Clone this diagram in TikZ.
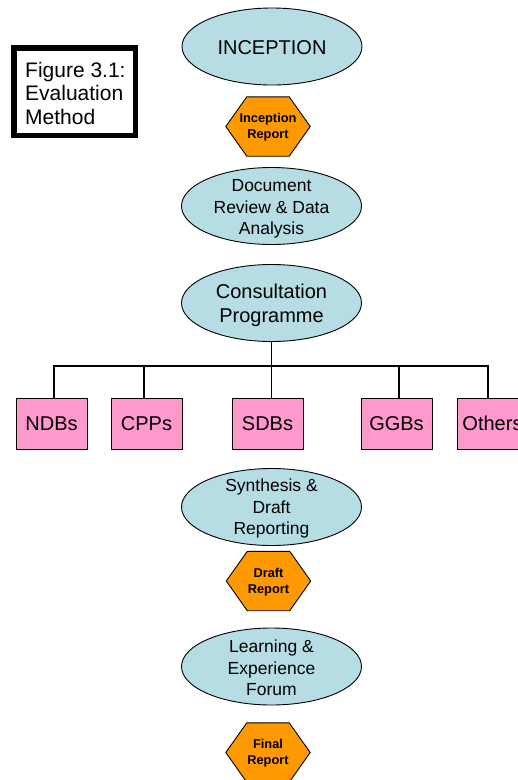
\documentclass[tikz,border=0pt]{standalone}
\usepackage{fontspec}
\setmainfont{Liberation Sans}
\usetikzlibrary{shapes.geometric}

\definecolor{stageblue}{RGB}{183,221,228}
\definecolor{grouppink}{RGB}{255,153,204}
\definecolor{reportorange}{RGB}{255,153,0}

\tikzset{
  stage/.style={ellipse, draw=black, line width=0.9pt, fill=stageblue,
    minimum width=180pt, minimum height=77pt, inner sep=0pt},
  stagetext/.style={align=center, inner sep=0pt, font=\fontsize{17.5}{21.5}\selectfont},
  bigtext/.style={align=center, inner sep=0pt, font=\fontsize{20}{24}\selectfont},
  group/.style={rectangle, draw=black, line width=0.9pt, fill=grouppink,
    minimum width=71pt, minimum height=51pt, inner sep=0pt,
    font=\fontsize{20}{24}\selectfont},
  hexslot/.style={rectangle, minimum width=84pt, minimum height=59pt, inner sep=0pt},
  hextext/.style={align=center, inner sep=0pt, font=\bfseries\fontsize{12.8}{16}\selectfont},
  hexline/.style={draw=black, line width=0.9pt, fill=reportorange, line join=miter},
  tree/.style={draw=black, line width=1.1pt},
  captionbox/.style={draw=black, line width=5.5pt, minimum width=121.5pt,
    minimum height=87.5pt, inner sep=0pt},
}

% flat-topped hexagon drawn round an empty slot node
\newcommand\hexframe[1]{%
  \path[hexline] (#1.west) -- ([xshift=21pt]#1.north west)
    -- ([xshift=-21pt]#1.north east) -- (#1.east)
    -- ([xshift=-21pt]#1.south east) -- ([xshift=21pt]#1.south west) -- cycle;}

\begin{document}
\begin{tikzpicture}[x=1pt,y=-1pt]
\useasboundingbox (0,0) rectangle (518,780);
\clip (0,0) rectangle (518,780);

% caption
\node[captionbox] (caption) at (74.5,91.5) {};
\node[anchor=west, align=left, inner sep=0pt, font=\fontsize{21}{23.5}\selectfont]
  (captiontext) at (25,93) {Figure 3.1:\\Evaluation\\Method};

% inception
\node[stage] (inception) at (272,46.5) {};
\node[bigtext] (inceptiontext) at (272,47.5) {INCEPTION};

\node[hexslot] (increp) at (268,126.5) {};
\hexframe{increp}
\node[hextext] (increptext) at (268,127.5) {Inception\\Report};

% document review
\node[stage] (docrev) at (271.5,206) {};
\node[stagetext] (docrevtext) at (271.5,209) {Document\\Review \& Data\\Analysis};

% consultation
\node[stage] (consult) at (271.5,303) {};
\node[bigtext] (consulttext) at (271.5,305) {Consultation\\Programme};

% stakeholder groups
\node[group] (ndb) at (51.5,423.5) {NDBs};
\node[group] (cpp) at (146.5,423.5) {CPPs};
\node[group] (sdb) at (267.5,423.5) {SDBs};
\node[group] (ggb) at (396.5,423.5) {GGBs};
\node[group] (oth) at (492.5,423.5) {Others};

\coordinate (bus) at (271.5,366);
\draw[tree] (consult.south) -- (bus);
\draw[tree] ([xshift=2.5pt]ndb.north) |- (bus) -| ([xshift=-4.5pt]oth.north);
\draw[tree] ([xshift=-2.5pt]cpp.north) -- ([xshift=-2.5pt]cpp.north |- bus);
\draw[tree] (bus) -- (bus |- sdb.north);
\draw[tree] ([xshift=2.5pt]ggb.north) -- ([xshift=2.5pt]ggb.north |- bus);

% synthesis
\node[stage] (synth) at (271.5,507) {};
\node[stagetext] (synthtext) at (271.5,508.5) {Synthesis \&\\Draft\\Reporting};

\node[hexslot] (draftrep) at (268.5,581) {};
\hexframe{draftrep}
\node[hextext] (draftreptext) at (268.5,582) {Draft\\Report};

% learning forum
\node[stage] (forum) at (271.5,666.5) {};
\node[stagetext] (forumtext) at (271.5,668) {Learning \&\\Experience\\Forum};

\node[hexslot] (finalrep) at (268,752.5) {};
\hexframe{finalrep}
\node[hextext] (finalreptext) at (268,753.5) {Final\\Report};
\end{tikzpicture}
\end{document}
